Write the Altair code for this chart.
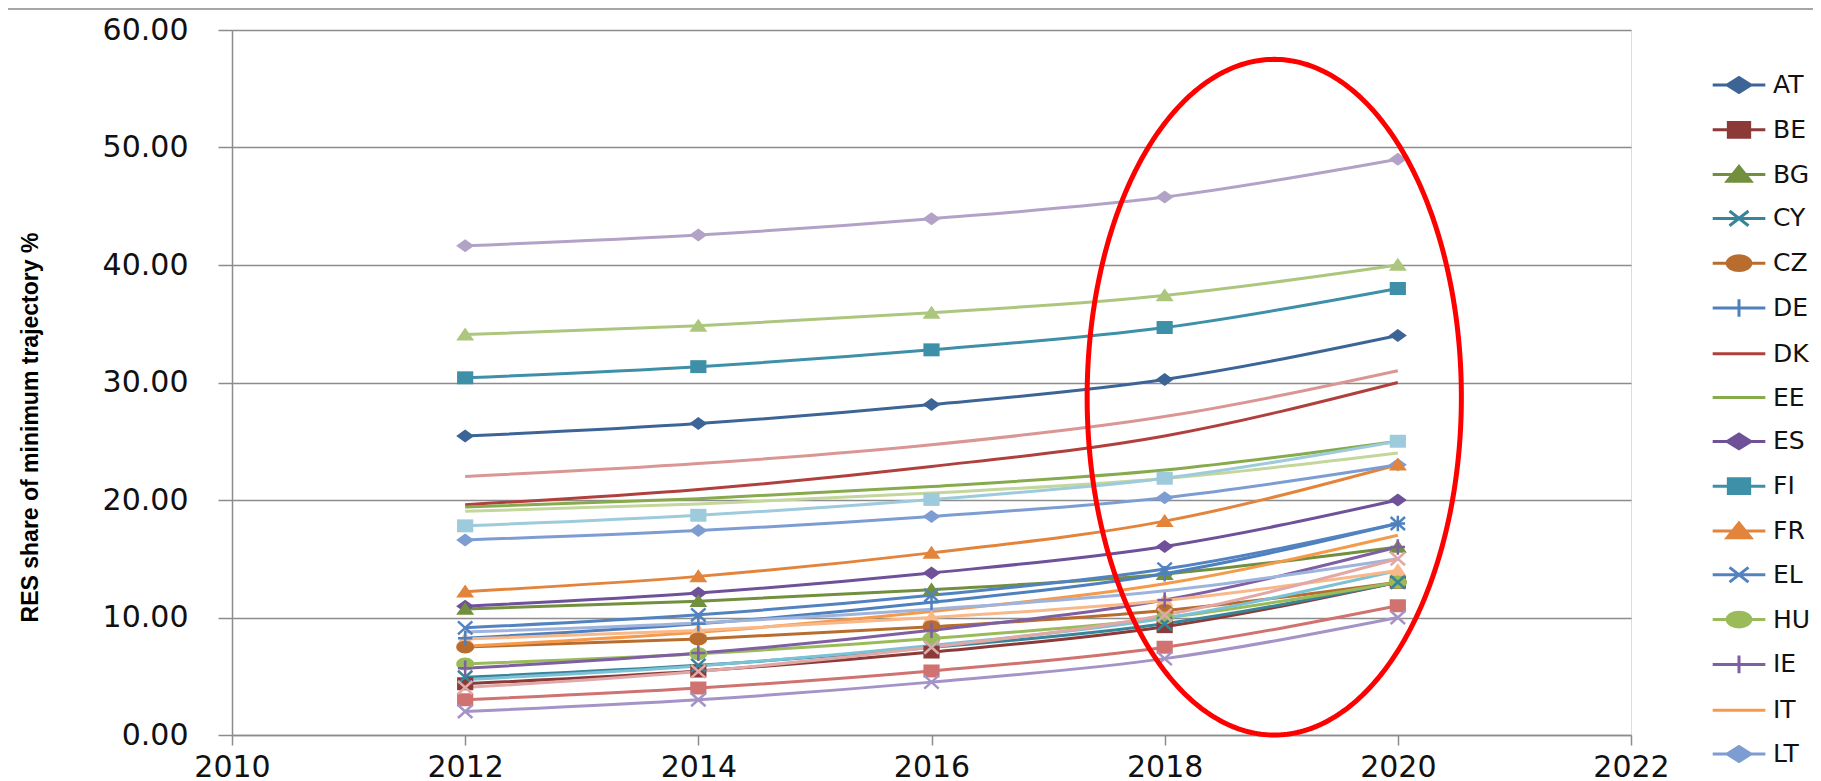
import altair as alt
import pandas as pd
import numpy as np

# ---------------- data ----------------
years = [2012, 2014, 2016, 2018, 2020]
countries = ["AT", "BE", "BG", "CY", "CZ", "DE", "DK", "EE", "ES", "FI", "FR", "EL", "HU", "IE", "IT", "LT",
             "LU", "LV", "MT", "NL", "PL", "PT", "RO", "SE", "SI", "SK", "UK"]
AT = [25.44, 26.51, 28.12, 30.26, 34.0]
BE = [4.36, 5.44, 7.06, 9.22, 13.0]
BG = [10.72, 11.38, 12.37, 13.69, 16.0]
CY = [4.92, 5.93, 7.45, 9.47, 13.0]
CZ = [7.48, 8.17, 9.21, 10.59, 13.0]
DE = [8.24, 9.46, 11.29, 13.73, 18.0]
DK = [19.60, 20.90, 22.85, 25.45, 30.0]
EE = [19.40, 20.10, 21.15, 22.55, 25.0]
ES = [10.96, 12.09, 13.79, 16.05, 20.0]
FI = [30.40, 31.35, 32.78, 34.68, 38.0]
FR = [12.20, 13.50, 15.50, 18.20, 23.0]
EL = [9.12, 10.23, 11.90, 14.12, 18.0]
HU = [6.04, 6.91, 8.22, 9.96, 13.0]
IE = [5.68, 6.97, 8.91, 11.49, 16.0]
IT = [7.56, 8.74, 10.51, 12.87, 17.0]
LT = [16.60, 17.40, 18.60, 20.20, 23.0]
LU = [3.00, 4.00, 5.45, 7.47, 11.0]
LV = [34.08, 34.82, 35.93, 37.41, 40.0]
MT = [2.00, 3.00, 4.50, 6.50, 10.0]
NL = [4.72, 5.88, 7.62, 9.94, 14.0]
PL = [8.76, 9.54, 10.71, 12.27, 15.0]
PT = [22.00, 23.10, 24.70, 27.10, 31.0]
RO = [19.04, 19.66, 20.59, 21.83, 24.0]
SE = [41.64, 42.56, 43.94, 45.78, 49.0]
SI = [17.80, 18.70, 20.05, 21.85, 25.0]
SK = [8.16, 8.89, 9.99, 11.45, 14.0]
UK = [4.04, 5.41, 7.47, 10.21, 15.0]
series = [AT, BE, BG, CY, CZ, DE, DK, EE, ES, FI, FR, EL, HU, IE, IT, LT,
          LU, LV, MT, NL, PL, PT, RO, SE, SI, SK, UK]

colors = ["#3C6496", "#8C3A38", "#728F3E", "#3A8499", "#B86D2F", "#4E80BE", "#B0403D", "#86AA4C",
          "#6E5199", "#3D90A8", "#E3843C", "#5283C0", "#9ABB59", "#7E5FA3", "#F59A4B", "#7D9DD2",
          "#CF7270", "#ACC67D", "#A493C6", "#7BC2D6", "#9FB4DC", "#D99694", "#C3D69B", "#B3A2C7",
          "#9DCBDC", "#F9B88A", "#E0A8A6"]
markers = ["diamond", "square", "triangle", "x", "circle", "plus", "none", "none",
           "diamond", "square", "triangle", "x", "circle", "plus", "none", "diamond",
           "square", "triangle", "x", "none", "none", "none", "none", "diamond",
           "square", "triangle", "x"]
legend_count = 16

y_title = "RES share of minimum trajectory %"
x_ticks = [2010, 2012, 2014, 2016, 2018, 2020, 2022]
y_ticks = [0, 10, 20, 30, 40, 50, 60]

# red ellipse annotation (data space): centre year, centre value, radii
ell_cx, ell_cy, ell_rx, ell_ry = 2018.94, 28.75, 1.605, 28.75

# ---------------- build tables ----------------
rows = []
for c, vals, mk in zip(countries, series, markers):
    for yr, v in zip(years, vals):
        rows.append({"country": c, "year": yr, "value": v, "marker": mk})
df = pd.DataFrame(rows)

t = np.linspace(0, 2 * np.pi, 361)
ell = pd.DataFrame({"year": ell_cx + ell_rx * np.cos(t),
                    "value": ell_cy + ell_ry * np.sin(t),
                    "k": np.arange(len(t))})

# marker shapes (unit box, a little wider than tall as in the picture)
def shape_path(kind, sx, sy):
    if kind == "diamond":
        return f"M0,{-sy}L{sx},0L0,{sy}L{-sx},0Z"
    if kind == "square":
        return f"M{-sx*0.9},{-sy}L{sx*0.9},{-sy}L{sx*0.9},{sy}L{-sx*0.9},{sy}Z"
    if kind == "triangle":
        return f"M0,{-sy*1.1}L{sx},{sy*0.9}L{-sx},{sy*0.9}Z"
    if kind == "circle":
        return f"M{-sx},0A{sx},{sy},0,1,0,{sx},0A{sx},{sy},0,1,0,{-sx},0Z"
    if kind == "x":
        return f"M{-sx*0.8},{-sy}L{sx*0.8},{sy}M{-sx*0.8},{sy}L{sx*0.8},{-sy}"
    if kind == "plus":
        return f"M0,{-sy*1.2}L0,{sy*1.2}M{-sx*0.8},0L{sx*0.8},0"
    return ""

filled_kinds = ["diamond", "square", "triangle", "circle"]
stroked_kinds = ["x", "plus"]

FONT = "DejaVu Sans"
GRID = "#8C8C8C"

xaxis = alt.Axis(values=x_ticks, format="d", title=None, grid=False,
                 labelFont=FONT, labelFontSize=30, labelColor="#111111",
                 tickSize=10, tickColor=GRID, tickWidth=1.5,
                 domainColor=GRID, domainWidth=1.5, labelPadding=7, labelFlush=False)
yaxis = alt.Axis(values=y_ticks, format=".2f", title=y_title, grid=True,
                 gridColor=GRID, gridWidth=1.5,
                 labelFont=FONT, labelFontSize=30, labelColor="#111111",
                 tickSize=14, tickColor=GRID, tickWidth=1.5,
                 domainColor=GRID, domainWidth=1.5, labelPadding=30,
                 titleFont="Liberation Sans, Arial, sans-serif",
                 titleFontSize=23, titleFontWeight="bold", titleColor="#000000",
                 titleAngle=270, titleAlign="center", titleBaseline="alphabetic",
                 titleX=-195, titleY=397)

base = alt.Chart(df).encode(
    x=alt.X("year:Q", scale=alt.Scale(domain=[2010, 2022], nice=False, zero=False), axis=xaxis),
    y=alt.Y("value:Q", scale=alt.Scale(domain=[0, 60], nice=False), axis=yaxis),
)
color_enc = alt.Color("country:N", scale=alt.Scale(domain=countries, range=colors), legend=None)

lines = base.mark_line(interpolate="monotone", strokeWidth=3).encode(color=color_enc, detail="country:N")

layers = [lines]
for kind in filled_kinds + stroked_kinds:
    filled = kind in filled_kinds
    lay = base.transform_filter(
        alt.FieldOneOfPredicate(field="marker", oneOf=[kind])
    ).mark_point(shape=shape_path(kind, 1, 0.72), size=324, filled=filled, opacity=1,
                 strokeWidth=(1 if filled else 2.5)).encode(color=color_enc)
    layers.append(lay)

ellipse = alt.Chart(ell).mark_line(color="#FF0000", strokeWidth=5).encode(
    x="year:Q", y="value:Q", order="k:Q")
layers.append(ellipse)

# legend (first 16 series, line + marker symbols)
leg_countries = countries[:legend_count]
leg_paths = []
leg_fills = []
for mk, col in zip(markers[:legend_count], colors[:legend_count]):
    p = "M-1,0L1,0"
    if mk != "none":
        p += shape_path(mk, 0.45, 0.28)
    leg_paths.append(p)
    leg_fills.append(col if mk in filled_kinds else "transparent")

leg = alt.Legend(title=None, orient="none", legendX=1479, legendY=27, padding=0,
                 labelFont=FONT, labelFontSize=25, labelColor="#111111", labelOffset=6,
                 symbolSize=2770, symbolStrokeWidth=3, symbolOpacity=1,
                 rowPadding=2.8)
legend_layer = base.transform_filter("datum.value < -999").mark_point(
    opacity=1, strokeWidth=3, filled=True).encode(
    stroke=alt.Stroke("country:N", scale=alt.Scale(domain=leg_countries, range=colors[:legend_count]), legend=leg),
    fill=alt.Fill("country:N", scale=alt.Scale(domain=leg_countries, range=leg_fills), legend=leg),
    shape=alt.Shape("country:N", scale=alt.Scale(domain=leg_countries, range=leg_paths), legend=leg),
)
layers.append(legend_layer)

# thin frame line at the very top of the picture
top_rule = alt.Chart(df).mark_rule(color="#A6A6A6", strokeWidth=2).encode(
    x=alt.value(-224), x2=alt.value(1581), y=alt.value(-21))
layers.append(top_rule)

chart = alt.layer(*layers).properties(
    width=1399, height=705,
    autosize=alt.AutoSizeParams(type="none"),
    padding={"left": 224, "top": 22, "right": 182, "bottom": 46},
).configure_view(stroke=None).configure(background="white")

chart.save("out.html", embed_options={"renderer": "svg", "actions": False})
